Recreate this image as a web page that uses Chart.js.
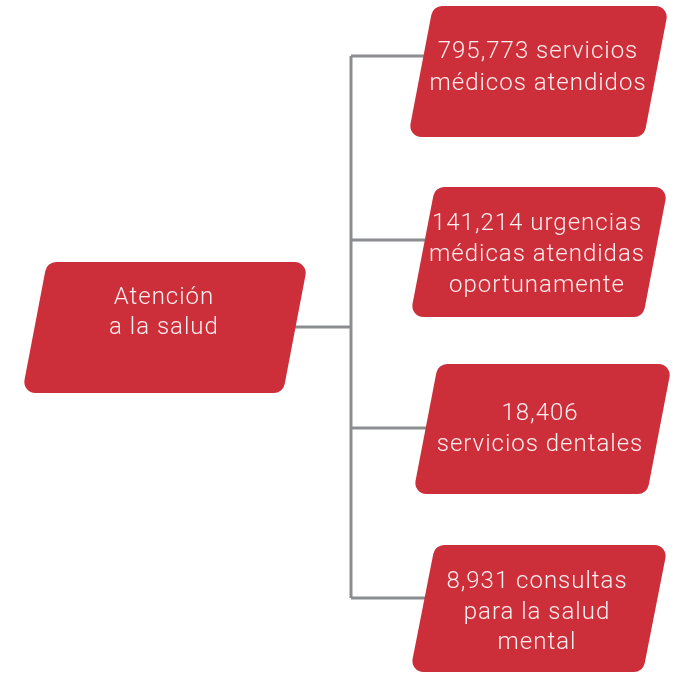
<!DOCTYPE html>
<html>
<head>
<meta charset="utf-8">
<script src="https://cdn.jsdelivr.net/npm/chart.js@4"></script>
<style>
  html, body { margin: 0; padding: 0; background: #ffffff; }
  #wrap { width: 678px; height: 673px; }
</style>
</head>
<body>
<div id="wrap"><canvas id="diagram" width="678" height="673"></canvas></div>
<script>
// --- data ---
const rootLines = ['Atención', 'a la salud'];
const values = [795773, 141214, 18406, 8931];
const captions = [
    ['servicios', 'médicos atendidos'],
    ['urgencias', 'médicas atendidas', 'oportunamente'],
    ['', 'servicios dentales'],
    ['consultas', 'para la salud', 'mental']
];

// --- layout (diagram units = px of the reference) ---
const RED = '#cc2e3a';
const GREY = '#8b8d90';
const SKEW = 25;
const rootBox = { left: 47, top: 262, width: 261, bottom: 393, textX: 164, textY: [298, 328] };
const branchBoxes = [
    { left: 433, top: 6,   width: 236, bottom: 137, textX: 538, textY: [52, 84] },
    { left: 435, top: 187, width: 233, bottom: 317, textX: 537, textY: [224, 255, 286] },
    { left: 438, top: 364, width: 234, bottom: 494, textX: 540, textY: [414, 445] },
    { left: 435, top: 545, width: 233, bottom: 672, textX: 537, textY: [582, 613, 643] }
];
const spineX = 351;
const branchY = [56, 240, 428, 598];
const rootY = 327;

function fmt(v) { return v.toLocaleString('en-US'); }

function boxLines(i) {
    const first = (fmt(values[i]) + ' ' + captions[i][0]).trim();
    return [first].concat(captions[i].slice(1));
}

// connector segments as line datasets
const lineStyle = { showLine: true, borderColor: GREY, borderWidth: 3, pointRadius: 0, fill: false, tension: 0 };
const datasets = [
    Object.assign({ data: [{ x: spineX, y: branchY[0] }, { x: spineX, y: branchY[branchY.length - 1] }] }, lineStyle),
    Object.assign({ data: [{ x: 290, y: rootY }, { x: spineX, y: rootY }] }, lineStyle)
];
branchY.forEach(function(y) {
    datasets.push(Object.assign({ data: [{ x: spineX, y: y }, { x: 430, y: y }] }, lineStyle));
});

function drawBox(ctx, xs, ys, b, lines) {
    const r = 11;
    const tl = { x: xs.getPixelForValue(b.left), y: ys.getPixelForValue(b.top) };
    const tr = { x: xs.getPixelForValue(b.left + b.width), y: tl.y };
    const br = { x: xs.getPixelForValue(b.left + b.width - SKEW), y: ys.getPixelForValue(b.bottom) };
    const bl = { x: xs.getPixelForValue(b.left - SKEW), y: br.y };
    ctx.save();
    ctx.beginPath();
    ctx.moveTo((tl.x + tr.x) / 2, tl.y);
    ctx.arcTo(tr.x, tr.y, br.x, br.y, r);
    ctx.arcTo(br.x, br.y, bl.x, bl.y, r);
    ctx.arcTo(bl.x, bl.y, tl.x, tl.y, r);
    ctx.arcTo(tl.x, tl.y, tr.x, tr.y, r);
    ctx.closePath();
    ctx.fillStyle = RED;
    ctx.fill();

    ctx.fillStyle = '#fdeeee';
    ctx.font = '300 24px Roboto';
    ctx.letterSpacing = '1px';
    ctx.textAlign = 'center';
    ctx.textBaseline = 'middle';
    lines.forEach(function(txt, k) {
        ctx.fillText(txt, xs.getPixelForValue(b.textX), ys.getPixelForValue(b.textY[k]));
    });
    ctx.restore();
}

const boxesPlugin = {
    id: 'boxes',
    afterDatasetsDraw(chart) {
        const ctx = chart.ctx;
        const xs = chart.scales.x, ys = chart.scales.y;
        drawBox(ctx, xs, ys, rootBox, rootLines);
        branchBoxes.forEach(function(b, i) {
            drawBox(ctx, xs, ys, b, boxLines(i));
        });
    }
};

new Chart(document.getElementById('diagram'), {
    type: 'scatter',
    data: { datasets: datasets },
    options: {
        responsive: false,
        animation: false,
        devicePixelRatio: 1,
        layout: { padding: 0 },
        plugins: { legend: { display: false }, tooltip: { enabled: false } },
        scales: {
            x: { type: 'linear', min: 0, max: 678, display: false },
            y: { type: 'linear', min: 0, max: 673, reverse: true, display: false }
        }
    },
    plugins: [boxesPlugin]
});
</script>
</body>
</html>
